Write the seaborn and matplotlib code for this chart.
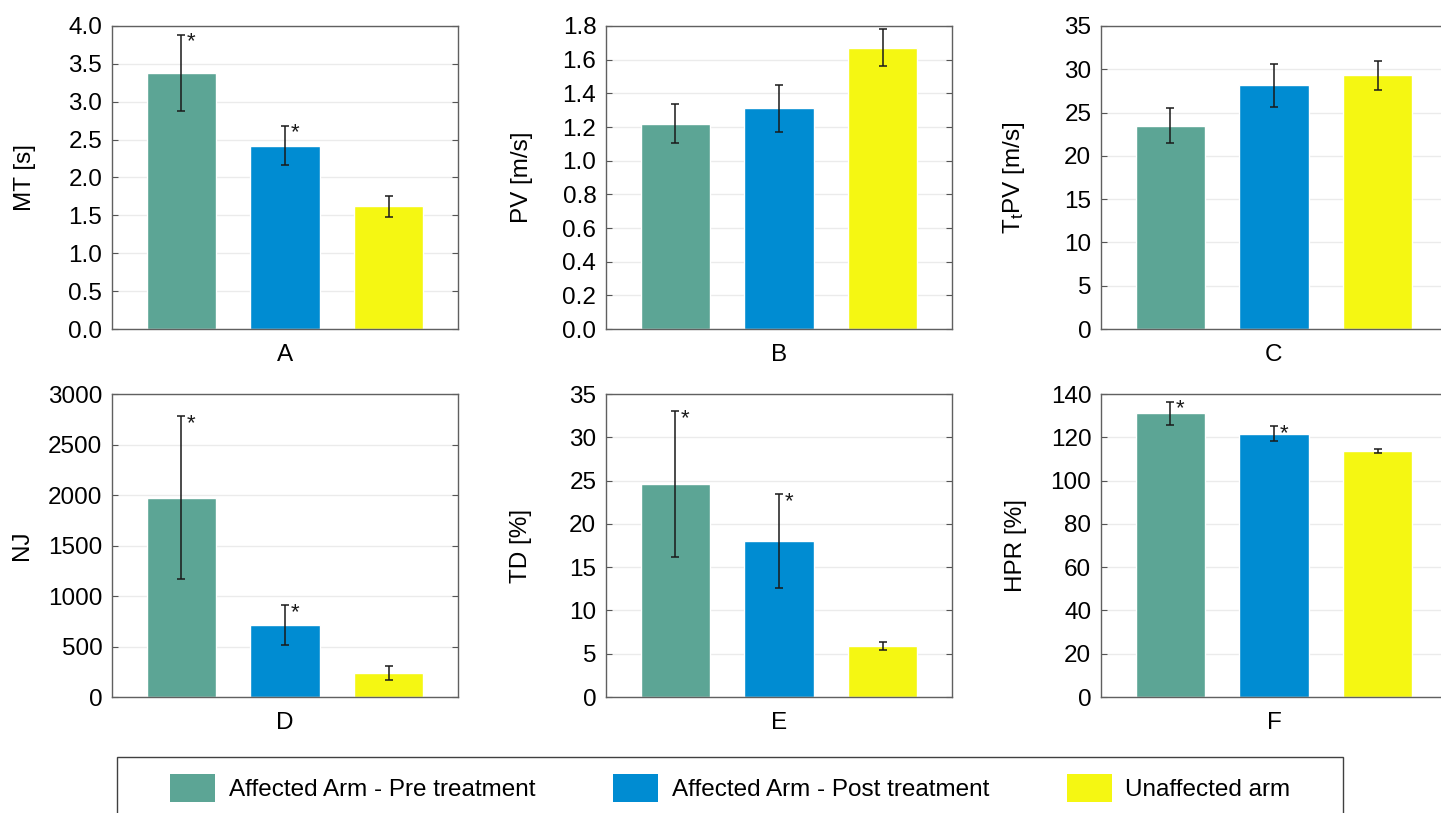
import numpy as np
import matplotlib
matplotlib.use("Agg")
import matplotlib.pyplot as plt
import seaborn as sns
from matplotlib.patches import Patch, Rectangle
from matplotlib.ticker import FormatStrFormatter

#----- data -----
groups = ["Affected Arm - Pre treatment", "Affected Arm - Post treatment", "Unaffected arm"]
colors = ["#5ca595", "#008cd2", "#f5f712"]

mt_mean = [3.38, 2.42, 1.62]
mt_sd = [0.50, 0.26, 0.14]
pv_mean = [1.22, 1.31, 1.67]
pv_sd = [0.116, 0.137, 0.11]
ttpv_mean = [23.5, 28.15, 29.3]
ttpv_sd = [2.0, 2.5, 1.7]
nj_mean = [1975, 711, 241]
nj_sd = [805, 195, 68]
td_mean = [24.6, 18.0, 5.9]
td_sd = [8.4, 5.4, 0.45]
hpr_mean = [131.0, 121.6, 113.7]
hpr_sd = [5.25, 3.4, 1.1]

panel_letters = ["A", "B", "C", "D", "E", "F"]
ylabels = ["MT [s]", "PV [m/s]", "T$_t$PV [m/s]", "NJ", "TD [%]", "HPR [%]"]
signif = [[1, 1, 0], [0, 0, 0], [0, 0, 0], [1, 1, 0], [1, 1, 0], [1, 1, 0]]
ymax = [4.0, 1.8, 35, 3000, 35, 140]
ystep = [0.5, 0.2, 5, 500, 5, 20]

means = [mt_mean, pv_mean, ttpv_mean, nj_mean, td_mean, hpr_mean]
sds = [mt_sd, pv_sd, ttpv_sd, nj_sd, td_sd, hpr_sd]

#----- style -----
sns.set_style("white")
plt.rcParams["font.family"] = ["Liberation Sans", "DejaVu Sans"]
plt.rcParams["mathtext.default"] = "regular"
plt.rcParams["text.color"] = "black"
plt.rcParams["axes.labelcolor"] = "black"

W, H = 1441, 813
fig = plt.figure(figsize=(W / 100, H / 100), dpi=100)

lefts = [112, 606, 1101]
tops = [26, 394]
aw, ah = 346, 303
label_x = [-0.22, -0.212, -0.214, -0.228, -0.214, -0.214]

for i in range(6):
    r, c = divmod(i, 3)
    ax = fig.add_axes([lefts[c] / W, 1 - (tops[r] + ah) / H, aw / W, ah / H])
    x = np.arange(3)
    sns.barplot(x=groups, y=means[i], hue=groups, palette=colors, width=0.667,
                errorbar=None, legend=False, saturation=1, ax=ax)
    ax.errorbar(x, means[i], yerr=sds[i], fmt="none", ecolor="#1a1a1a",
                elinewidth=1.1, capsize=2.6, capthick=1.1, zorder=3)
    for j in range(3):
        if signif[i][j]:
            ax.annotate("*", xy=(x[j], means[i][j] + sds[i][j]), xytext=(4, -9),
                        textcoords="offset points", ha="left", va="baseline",
                        fontsize=16, color="#1a1a1a")

    ax.set_xlim(-0.67, 2.67)
    ax.set_ylim(0, ymax[i])
    ax.set_yticks(np.arange(0, ymax[i] + ystep[i] / 2, ystep[i]))
    if i < 2:
        ax.yaxis.set_major_formatter(FormatStrFormatter("%.1f"))
    ax.set_xticks([])
    ax.set_xlabel(panel_letters[i], fontsize=17.5)
    ax.xaxis.set_label_coords(0.5, -0.05)
    ax.set_ylabel(ylabels[i], fontsize=17.5)
    ax.yaxis.set_label_coords(label_x[i], 0.5)

    ax.grid(axis="y", color="#ebebeb", linewidth=1)
    ax.set_axisbelow(True)
    ax.tick_params(axis="y", direction="in", left=True, right=True, length=4,
                   color="#555555", labelcolor="black", labelsize=17.5, pad=7)
    for s in ax.spines.values():
        s.set_visible(True)
        s.set_color("#606060")
        s.set_linewidth(1)

#----- legend -----
handles = [Patch(facecolor=col, edgecolor="none") for col in colors]
fig.legend(handles, groups, loc="center", ncol=3, mode="expand", frameon=False,
           bbox_to_anchor=(168 / W, 1 - 788 / H, (1293 - 168) / W, 0),
           fontsize=17.5, handlelength=1.85, handleheight=1.4, handletextpad=0.55,
           borderpad=0.1, borderaxespad=0)
fig.add_artist(Rectangle((117 / W, -0.05), 1226 / W, (813 - 757) / H + 0.05,
                         transform=fig.transFigure, fill=False,
                         edgecolor="#404040", linewidth=1))

plt.savefig("out.png", dpi=100)
